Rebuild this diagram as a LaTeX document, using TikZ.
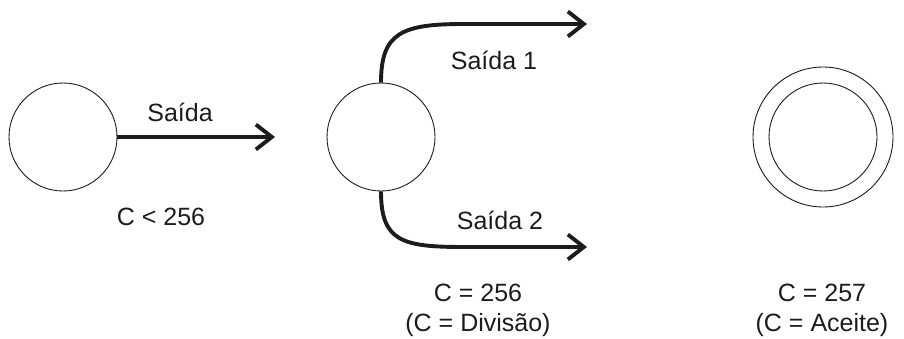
\documentclass[tikz,border=0pt]{standalone}
\usepackage{fontspec}
\setmainfont{Liberation Sans}
\usetikzlibrary{arrows.meta, positioning}
\definecolor{StateInk}{RGB}{28, 28, 28}

\begin{document}
\begin{tikzpicture}[x=1pt,y=1pt,
  state/.style={circle, draw=StateInk, line width=0.9pt, minimum size=108pt, inner sep=0pt},
  exit/.style={draw=StateInk, line width=3.9pt,
    -{Straight Barb[length=16pt, width=25pt]}},
  lbl/.style={font=\fontsize{25}{30}\selectfont, text=StateInk, inner sep=0pt, align=center}]
  \path[use as bounding box] (0,0) rectangle (904,338);

  \node[state] (c1) at (63,201) {};
  \node[state] (c2) at (381,201) {};
  \node[state] (c3) at (823,201) {};
  \node[circle, draw=StateInk, line width=0.9pt, minimum size=140pt] (c3o) at (c3) {};

  \coordinate (e0) at (275,201);
  \coordinate (e1) at (587,314);
  \coordinate (e2) at (587,91);

  \draw[exit] (c1.east) -- (e0);
  \draw[exit] (c2.north) .. controls +(0,50) and +(-62,0) .. (464,314) -- (e1);
  \draw[exit] (c2.south) .. controls +(0,-50) and +(-62,0) .. (464,91) -- (e2);

  \node[lbl] (s0) at (180,226) {Saída};
  \node[lbl] (s1) at (494,278) {Saída 1};
  \node[lbl] (s2) at (500,118) {Saída 2};

  \node[lbl] (t1) at (161,121) {C < 256};
  \node[lbl] (t2) at (478,28) {C = 256\\(C = Divisão)};
  \node[lbl] (t3) at (822,28) {C = 257\\(C = Aceite)};
\end{tikzpicture}
\end{document}
